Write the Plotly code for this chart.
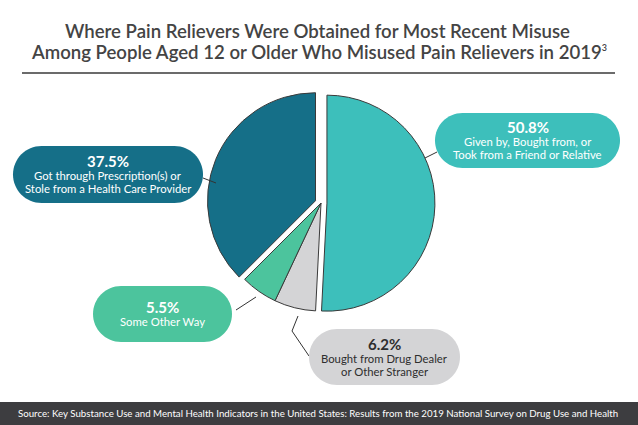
import plotly.graph_objects as go

W, H = 638, 425

categories = ["Given by, Bought from, or Took from a Friend or Relative",
              "Bought from Drug Dealer or Other Stranger",
              "Some Other Way",
              "Got through Prescription(s) or Stole from a Health Care Provider"]
values = [50.8, 6.2, 5.5, 37.5]
pct_labels = ["50.8%", "6.2%", "5.5%", "37.5%"]
label_lines = [["Given by, Bought from, or", "Took from a Friend or Relative"],
               ["Bought from Drug Dealer", "or Other Stranger"],
               ["Some Other Way"],
               ["Got through Prescription(s) or", "Stole from a Health Care Provider"]]
colors = ["#3dbfbb", "#d4d4d6", "#4cc49d", "#156f88"]
text_colors = ["white", "#2e2e2e", "white", "white"]
pulls = [0.055, 0, 0, 0.055]

# pill boxes in pixels: x0, y0, x1, y1
boxes = [(435, 113, 620, 168), (309, 329, 460, 385), (93, 286, 232, 342), (13, 146, 203, 203)]
connectors = [[(425, 158), (437, 152)],
              [(298, 316), (292, 331), (309, 356)],
              [(236, 310), (256, 297)],
              [(203, 178), (216, 183)]]

FONT = "Lato"


def px(x):
    return x / W


def py(y):
    return 1 - y / H


def pill_path(x0, y0, x1, y1):
    r = (y1 - y0) / 2
    k = 0.5523 * r
    pts = []
    pts.append(f"M{px(x0 + r)},{py(y0)}")
    pts.append(f"L{px(x1 - r)},{py(y0)}")
    pts.append(f"C{px(x1 - r + k)},{py(y0)} {px(x1)},{py(y0 + r - k)} {px(x1)},{py(y0 + r)}")
    pts.append(f"C{px(x1)},{py(y0 + r + k)} {px(x1 - r + k)},{py(y1)} {px(x1 - r)},{py(y1)}")
    pts.append(f"L{px(x0 + r)},{py(y1)}")
    pts.append(f"C{px(x0 + r - k)},{py(y1)} {px(x0)},{py(y1 - r + k)} {px(x0)},{py(y1 - r)}")
    pts.append(f"C{px(x0)},{py(y0 + r - k)} {px(x0 + r - k)},{py(y0)} {px(x0 + r)},{py(y0)}")
    pts.append("Z")
    return " ".join(pts)


# pie placement
cx, cy, r = 321, 203, 108
half = r * (1 + max(pulls))

fig = go.Figure(go.Pie(
    labels=categories, values=values, sort=False, direction="clockwise", rotation=0,
    pull=pulls, textinfo="none", hoverinfo="label+percent",
    marker=dict(colors=colors, line=dict(color="#3a3a3a", width=1)),
    domain=dict(x=[px(cx - half), px(cx + half)], y=[py(cy + half), py(cy - half)]),
    showlegend=False,
))

shapes = []
annotations = []

# title rule
shapes.append(dict(type="line", xref="paper", yref="paper", x0=px(22), x1=px(615), y0=py(73), y1=py(73),
                   line=dict(color="#3a3a3a", width=1.5)))

# footer bar
shapes.append(dict(type="rect", xref="paper", yref="paper", x0=0, x1=1, y0=0, y1=py(402),
                   fillcolor="#3d3d40", line=dict(width=0), layer="below"))

for i in range(len(values)):
    pts = connectors[i]
    path = "M" + " L".join(f"{px(a)},{py(b)}" for a, b in pts)
    shapes.append(dict(type="path", xref="paper", yref="paper", path=path,
                       line=dict(color="#333333", width=1)))
    x0, y0, x1, y1 = boxes[i]
    shapes.append(dict(type="path", xref="paper", yref="paper", path=pill_path(x0, y0, x1, y1),
                       fillcolor=colors[i], line=dict(width=0), layer="above"))
    xc = (x0 + x1) / 2
    lines = label_lines[i]
    n = len(lines)
    total = 15 + 13 * n
    ytop = (y0 + y1) / 2 - total / 2 + 7
    annotations.append(dict(xref="paper", yref="paper", x=px(xc), y=py(ytop), text="<b>" + pct_labels[i] + "</b>",
                            showarrow=False, xanchor="center", yanchor="middle",
                            font=dict(family=FONT, size=15, color=text_colors[i])))
    for j, ln in enumerate(lines):
        annotations.append(dict(xref="paper", yref="paper", x=px(xc), y=py(ytop + 14.5 + 13 * j), text=ln,
                                showarrow=False, xanchor="center", yanchor="middle",
                                font=dict(family=FONT, size=11.3, color=text_colors[i])))

# title
annotations.append(dict(xref="paper", yref="paper", x=px(317), y=py(31),
                        text="Where Pain Relievers Were Obtained for Most Recent Misuse",
                        showarrow=False, xanchor="center", yanchor="middle",
                        font=dict(family=FONT, size=18.6, color="#444444", weight=600)))
annotations.append(dict(xref="paper", yref="paper", x=px(319), y=py(52),
                        text="Among People Aged 12 or Older Who Misused Pain Relievers in 2019<sup><span style='font-size:9px'>3</span></sup>",
                        showarrow=False, xanchor="center", yanchor="middle",
                        font=dict(family=FONT, size=18.6, color="#444444", weight=600)))

# footer text
annotations.append(dict(xref="paper", yref="paper", x=px(318), y=py(413),
                        text="Source: Key Substance Use and Mental Health Indicators in the United States: Results from the 2019 National Survey on Drug Use and Health",
                        showarrow=False, xanchor="center", yanchor="middle",
                        font=dict(family=FONT, size=9.7, color="white")))

fig.update_layout(width=W, height=H, margin=dict(l=0, r=0, t=0, b=0),
                  paper_bgcolor="white", plot_bgcolor="white",
                  shapes=shapes, annotations=annotations, showlegend=False)

fig.write_html("out.html", config={"displayModeBar": False},
               post_script="document.body.style.margin='0';document.body.style.padding='0';")
